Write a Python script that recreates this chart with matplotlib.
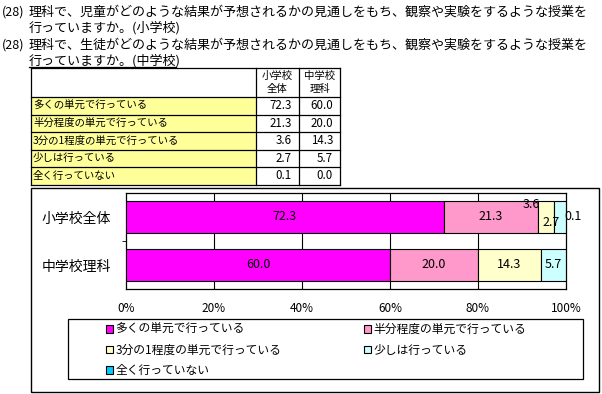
import matplotlib
matplotlib.use("Agg")
import matplotlib.pyplot as plt
from matplotlib.patches import Rectangle

plt.rcParams['font.family'] = ['Noto Sans CJK JP', 'DejaVu Sans']

# data
title_lines = [
    ("(28)", "理科で、児童がどのような結果が予想されるかの見通しをもち、観察や実験をするような授業を"),
    ("", "行っていますか。(小学校)"),
    ("(28)", "理科で、生徒がどのような結果が予想されるかの見通しをもち、観察や実験をするような授業を"),
    ("", "行っていますか。(中学校)"),
]
categories = ["小学校全体", "中学校理科"]
table_headers = ["小学校\n全体", "中学校\n理科"]
answers = ["多くの単元で行っている", "半分程度の単元で行っている",
           "3分の1程度の単元で行っている", "少しは行っている", "全く行っていない"]
elem_vals = [72.3, 21.3, 3.6, 2.7, 0.1]
junior_vals = [60.0, 20.0, 14.3, 5.7, 0.0]
x_ticks = [0, 20, 40, 60, 80, 100]
x_ticklabels = ["0%", "20%", "40%", "60%", "80%", "100%"]

colors = ["#FF00FF", "#FF99CC", "#FFFFCC", "#CCFFFF", "#00CCFF"]

W, H = 602, 394
fig = plt.figure(figsize=(W / 100, H / 100), dpi=100)

# full-figure pixel axes for text, table and frames
bg = fig.add_axes([0, 0, 1, 1])
bg.set_xlim(0, W)
bg.set_ylim(H, 0)
bg.axis("off")

# title
title_y = [12, 27.5, 45, 60.5]
for (num, txt), y in zip(title_lines, title_y):
    if num:
        bg.text(2, y, num, fontsize=9, va="center", ha="left")
    bg.text(29, y, txt, fontsize=9.4, va="center", ha="left")
# the last title line is underlined in the original
bg.plot([29, 176], [66.5, 66.5], color="black", lw=0.9)

# table
col_x = [31, 256, 299, 340]
row_y = [68, 97, 114.5, 132, 149.5, 167, 184.5]
for r in range(5):
    bg.add_patch(Rectangle((col_x[0], row_y[r + 1]), col_x[1] - col_x[0],
                           row_y[r + 2] - row_y[r + 1], facecolor="#FFFF99",
                           edgecolor="none", zorder=1))
for y in row_y:
    bg.plot([col_x[0], col_x[-1]], [y, y], color="black", lw=0.9, zorder=2)
for x in col_x:
    bg.plot([x, x], [row_y[0], row_y[-1]], color="black", lw=0.9, zorder=2)
for j, h in enumerate(table_headers):
    bg.text((col_x[j + 1] + col_x[j + 2]) / 2, (row_y[0] + row_y[1]) / 2, h,
            fontsize=7.5, ha="center", va="center", linespacing=1.3)
for i, a in enumerate(answers):
    yc = (row_y[i + 1] + row_y[i + 2]) / 2
    bg.text(col_x[0] + 2, yc, a, fontsize=7.5, ha="left", va="center")
    for j, v in enumerate([elem_vals[i], junior_vals[i]]):
        bg.text(col_x[j + 2] - 7, yc, f"{v:.1f}", fontsize=8.3,
                ha="right", va="center")

# outer chart frame and legend frame
bg.add_patch(Rectangle((31, 188), 599 - 31, 392 - 188, facecolor="none",
                       edgecolor="black", lw=1))
bg.add_patch(Rectangle((68, 319), 583 - 68, 379 - 319, facecolor="none",
                       edgecolor="black", lw=0.9))

# bar chart
ax = fig.add_axes([126 / W, 1 - 289 / H, (566 - 126) / W, (289 - 193) / H])
series = list(zip(elem_vals, junior_vals))
ypos = range(len(categories))
left = [0.0] * len(categories)
handles = []
for k, name in enumerate(answers):
    vals = series[k]
    bars = ax.barh(ypos, vals, left=left, height=0.667, color=colors[k],
                   edgecolor="black", lw=0.8, label=name, zorder=3)
    handles.append(bars)
    for i, v in enumerate(vals):
        if v > 0:
            ax.annotate(f"{v:.1f}", (left[i] + v / 2, i), ha="center",
                        va="center", fontsize=9, zorder=4,
                        xytext=(0, 0), textcoords="offset pixels")
    left = [l + v for l, v in zip(left, vals)]

# nudge the crowded labels like the original
for t in ax.texts:
    if t.get_text() == "3.6" and t.xy[1] == 0:
        t.set_position((-14, 12))
    elif t.get_text() == "2.7" and t.xy[1] == 0:
        t.set_position((-9, -6))
    elif t.get_text() == "0.1" and t.xy[1] == 0:
        t.set_position((7, 0))

ax.set_xlim(0, 100)
ax.set_ylim(1.5, -0.5)
ax.set_xticks(x_ticks)
ax.set_xticklabels(x_ticklabels, fontsize=8.5)
ax.tick_params(axis="x", length=0, pad=9)
ax.set_yticks(list(ypos))
ax.set_yticklabels(categories, fontsize=10)
ax.tick_params(axis="y", length=0, pad=11)
ax.set_yticks([0.5], minor=True)
ax.tick_params(axis="y", which="minor", length=3, direction="out")
for x in x_ticks[1:-1]:
    ax.axvline(x, color="black", lw=0.8, zorder=1)
for s in ax.spines.values():
    s.set_color("black")
    s.set_linewidth(0.9)

order = [0, 2, 4, 1, 3]
leg = fig.legend([handles[i] for i in order], [answers[i] for i in order],
                 ncol=2, loc="upper left",
                 bbox_to_anchor=(106 / W, 1 - 323 / H),
                 fontsize=8.5, frameon=False, handlelength=0.6,
                 handleheight=0.6, handletextpad=0.2, labelspacing=0.64,
                 borderpad=0.0, borderaxespad=0, columnspacing=7.0)

fig.savefig("out.png", dpi=100)
